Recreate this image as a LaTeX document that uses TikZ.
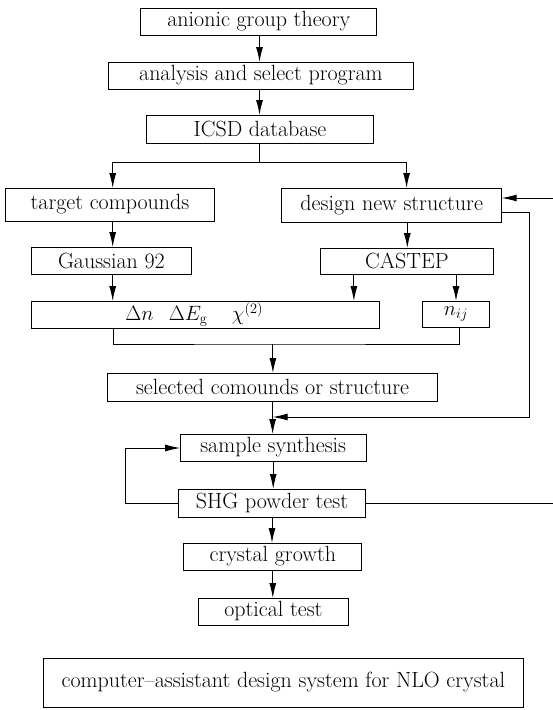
\documentclass[tikz,border=0pt]{standalone}
\usetikzlibrary{arrows.meta}
\newcommand{\boxfont}{\fontsize{22}{26}\selectfont}
\begin{document}
\begin{tikzpicture}[x=1pt, y=-1pt,
				    box/.style={draw, line width=1pt, inner sep=0pt, outer sep=0pt,
				    			  minimum height=27pt, text centered, text=black, font=\boxfont},
				    flow/.style={line width=1pt, -{Latex[length=15pt,width=7pt]}},
				    link/.style={line width=1pt}]
	\useasboundingbox (0,0) rectangle (552,710);
	\node[box, minimum width=236pt] (u1) at (258.8, 21.5) {anionic group theory};
	\node[box, minimum width=305.7pt] (u2) at (260.9, 75.5) {analysis and select program};
	\node[box, minimum width=226.4pt, minimum height=28pt] (u3) at (260, 129) {ICSD database};
	\node[box, minimum width=209.5pt, minimum height=33pt] (u4) at (110, 204.5) {target compounds};
	\node[box, minimum width=220pt, minimum height=34pt] (u5) at (391.7, 205) {design new structure};
	\node[box, minimum width=159.5pt] (u6) at (111.4, 260.5) {Gaussian 92};
	\node[box, minimum width=173.2pt, minimum height=26pt] (u7) at (407, 261) {CASTEP};
	\node[box, minimum width=348.5pt] (u8) at (205.3, 314.5) {$\Delta n\hspace{0.7em}\Delta E_{\mathrm{g}}\hspace{1.1em}\chi^{(2)}$\hspace*{22pt}};
	\node[box, minimum width=67pt, minimum height=26pt] (u9) at (456, 314) {$n_{ij}$};
	\node[box, minimum width=329.3pt, minimum height=28pt] (u10) at (272.6, 387) {selected comounds or structure};
	\node[box, minimum width=186pt] (u11) at (273.2, 447.5) {sample synthesis};
	\node[box, minimum width=187pt, minimum height=28pt] (u12) at (272, 503) {SHG powder test};
	\node[box, minimum width=178pt] (u13) at (272.8, 556.5) {crystal growth};
	\node[box, minimum width=150.3pt] (u14) at (273.4, 611.5) {optical test};
	\node[box, minimum width=480.2pt, minimum height=49pt] (u15) at (283.4, 682.5) {computer--assistant design system for NLO crystal};

	\coordinate (j1) at (259.5, 162);
	\coordinate (j2) at (272.9, 344);
	\coordinate (r1) at (529.2, 417);
	\coordinate (r2) at (556, 198);
	\coordinate (l1) at (125, 448);

	\draw[flow] 	([xshift=0.7pt]u1.south)  --  ([xshift=0.7pt]u1.south |- u2.north);
	\draw[flow] 	([xshift=-1.4pt]u2.south)  --  ([xshift=-1.4pt]u2.south |- u3.north);
	\draw[link] 	(j1 |- u3.south)  --  (j1);
	\draw[flow] 	(j1)  -|  ([xshift=2.7pt]u4.north);
	\draw[flow] 	(j1)  -|  ([xshift=14.9pt]u5.north);
	\draw[flow] 	([xshift=2.7pt]u4.south)  --  ([xshift=2.7pt]u4.south |- u6.north);
	\draw[flow] 	([xshift=15.6pt]u5.south)  --  ([xshift=15.6pt]u5.south |- u7.north);
	\draw[flow] 	([xshift=1.3pt]u6.south)  --  ([xshift=1.3pt]u6.south |- u8.north);
	\draw[flow] 	([xshift=-53.1pt]u7.south)  --  ([xshift=-53.1pt]u7.south |- u8.north);
	\draw[flow] 	(u9.north |- u7.south)  --  (u9.north);
	\draw[link] 	([xshift=-91.6pt]u8.south)  |-  (j2)  -|  ([xshift=3.5pt]u9.south);
	\draw[flow] 	(j2)  --  (j2 |- u10.north);
	\draw[flow] 	(u10.south)  --  (u10.south |- u11.north);
	\draw[flow] 	([yshift=-7pt]u5.east)  -|  (r1)  --  (r1 -| u10.south);
	\draw[flow] 	(u11.south)  --  (u11.south |- u12.north);
	\draw[flow] 	(u12.west)  -|  (l1)  --  (l1 -| u11.west);
	\draw[flow] 	(u12.east)  -|  (r2)  --  ([yshift=7pt]u5.east);
	\draw[flow] 	(u12.south)  --  (u12.south |- u13.north);
	\draw[flow] 	(u13.south)  --  (u13.south |- u14.north);

\end{tikzpicture}
\end{document}
